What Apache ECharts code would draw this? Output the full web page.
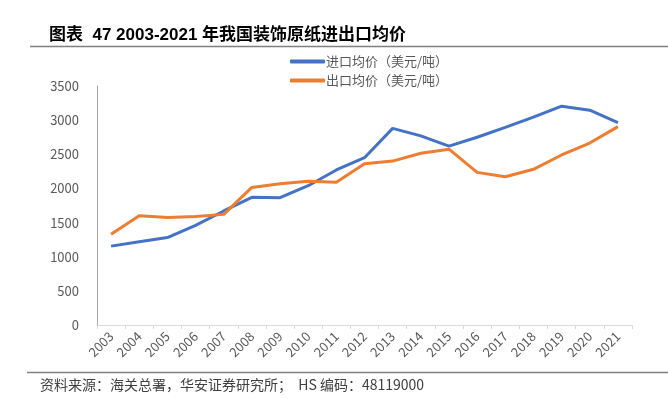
<!DOCTYPE html>
<html>
<head>
<meta charset="utf-8">
<script src="https://cdn.jsdelivr.net/npm/echarts@6/dist/echarts.min.js"></script>
<style>
  html, body { margin: 0; padding: 0; background: #fff; }
  #main { width: 668px; height: 399px; }
</style>
</head>
<body>
<div id="main"></div>
<script>
const years = ['2003', '2004', '2005', '2006', '2007', '2008', '2009', '2010', '2011', '2012',
  '2013', '2014', '2015', '2016', '2017', '2018', '2019', '2020', '2021']
const importPrice = [1155, 1220, 1280, 1460, 1670, 1870, 1865, 2040, 2270, 2450,
  2880, 2770, 2620, 2750, 2895, 3045, 3205, 3145, 2965]
const exportPrice = [1330, 1600, 1575, 1590, 1620, 2015, 2070, 2105, 2090, 2360,
  2400, 2515, 2575, 2235, 2170, 2280, 2490, 2665, 2905]

const font = '"Noto Sans CJK SC", "Microsoft YaHei", sans-serif'
const chart = echarts.init(document.getElementById('main'), null, { renderer: 'canvas' })

chart.setOption({
  animation: false,
  textStyle: { fontFamily: font },
  title: {
    text: '图表  47 2003-2021 年我国装饰原纸进出口均价',
    left: 44,
    top: 22,
    textStyle: { fontSize: 17, fontWeight: 'bold', color: '#000', fontFamily: '"Liberation Sans", "Noto Sans CJK SC", sans-serif' }
  },
  graphic: [
    { type: 'line', shape: { x1: 30, y1: 46.5, x2: 668, y2: 46.5 }, style: { stroke: '#808080', lineWidth: 1.5 } },
    { type: 'line', shape: { x1: 27, y1: 372.5, x2: 668, y2: 372.5 }, style: { stroke: '#808080', lineWidth: 1.5 } },
    {
      type: 'text', left: 40, top: 378,
      style: { text: '资料来源：海关总署，华安证券研究所；  HS 编码：48119000', fontSize: 14, fill: '#404040', fontFamily: font }
    }
  ],
  legend: {
    orient: 'vertical',
    left: 285,
    top: 50,
    itemWidth: 35,
    itemHeight: 4,
    itemGap: 6,
    icon: 'roundRect',
    textStyle: { fontSize: 13, color: '#595959', padding: [0, 0, 0, -4] },
    data: ['进口均价（美元/吨）', '出口均价（美元/吨）']
  },
  grid: { left: 97, right: 36, top: 86, bottom: 74 },
  xAxis: {
    type: 'category',
    data: years,
    boundaryGap: true,
    axisLine: { lineStyle: { color: '#D9D9D9', width: 1 } },
    axisTick: { show: true, length: 4, lineStyle: { color: '#D9D9D9' } },
    axisLabel: { rotate: 45, fontSize: 13, color: '#595959', margin: 9, interval: 0 }
  },
  yAxis: {
    type: 'value',
    min: 0,
    max: 3500,
    interval: 500,
    axisLine: { show: true, lineStyle: { color: '#A6A6A6', width: 1 } },
    axisTick: { show: false },
    splitLine: { show: false },
    axisLabel: { fontSize: 13, color: '#595959', margin: 18, formatter: v => String(v) }
  },
  series: [
    {
      name: '进口均价（美元/吨）',
      type: 'line',
      data: importPrice,
      symbol: 'none',
      lineStyle: { color: '#4472C4', width: 3 },
      itemStyle: { color: '#4472C4' }
    },
    {
      name: '出口均价（美元/吨）',
      type: 'line',
      data: exportPrice,
      symbol: 'none',
      lineStyle: { color: '#ED7D31', width: 3 },
      itemStyle: { color: '#ED7D31' }
    }
  ]
})
</script>
</body>
</html>
